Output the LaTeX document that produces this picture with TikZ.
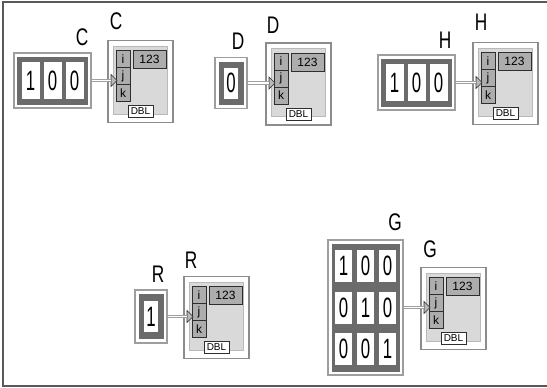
\documentclass[tikz,border=0pt]{standalone}
\usepackage{fontspec}
\newfontfamily\digitfont[FakeStretch=0.6]{Liberation Sans}
\newfontfamily\lblfont[FakeStretch=0.72]{Liberation Sans}
\newfontfamily\smallfont{Liberation Sans}
\usetikzlibrary{positioning}

\definecolor{arrdark}{gray}{0.42}
\definecolor{arrline}{gray}{0.62}
\definecolor{indline}{gray}{0.55}
\definecolor{indfill}{gray}{0.85}
\definecolor{idxfill}{gray}{0.68}
\definecolor{darkline}{gray}{0.18}
\definecolor{framecol}{gray}{0.35}

\tikzset{
  indout/.style={draw=indline, line width=1.5pt, fill=white, inner sep=0pt,
    minimum width=65pt, minimum height=82pt},
  indin/.style={draw=gray!55, line width=1pt, fill=indfill, inner sep=0pt,
    minimum width=54pt, minimum height=68pt},
  idx/.style={draw=darkline, fill=idxfill, line width=0.8pt, inner sep=0pt,
    minimum width=14pt, minimum height=17pt, font=\smallfont\fontsize{12}{12}\selectfont},
  numbox/.style={draw=darkline, fill=idxfill, line width=0.8pt, inner sep=0pt,
    minimum width=33pt, minimum height=18pt, font=\smallfont\fontsize{12}{12}\selectfont},
  dblbox/.style={draw=darkline, fill=white, line width=0.8pt, inner sep=0pt,
    minimum width=25pt, minimum height=12pt, font=\smallfont\fontsize{10}{10}\selectfont},
  tri/.style={draw=darkline, fill=gray!55, line width=0.6pt}
}

% front panel indicator: name, left x, wire y
\newcommand{\lvind}[3]{%
  \begin{scope}[shift={(#2,#3)}]
    \node[indout, anchor=north west] (#1) at (0,-41) {};
    \node[indin, anchor=north west] (#1-in) at (6,-35) {};
    \node[idx] (#1-i) at (16,-21.5) {i};
    \node[idx] (#1-j) at (16,-4.5) {j};
    \node[idx] (#1-k) at (16,12.5) {k};
    \node[numbox] (#1-n) at (42.5,-21) {123};
    \node[dblbox] (#1-d) at (33.5,31) {DBL};
    \draw[tri] (4,-6) -- (10,0) -- (4,6) -- cycle;
    \coordinate (#1-tip) at (4,0);
  \end{scope}}

\begin{document}
\begin{tikzpicture}[x=1pt, y=-1pt,
  arrout/.style={draw=arrline, line width=1.2pt, fill=white, inner sep=0pt},
  arrin/.style={fill=arrdark, inner sep=0pt},
  cell/.style 2 args={fill=white, inner sep=0pt, minimum width=#1pt, minimum height=#2pt,
    font=\digitfont\fontsize{28}{28}\selectfont},
  lbl/.style={font=\lblfont\fontsize{24}{24}\selectfont, inner sep=0pt},
  wire/.style={draw=gray!75, double=white, double distance=1.6pt, line width=0.8pt},
  frame/.style={draw=framecol, line width=1.5pt}]
  \useasboundingbox[fill=white] (0,0) rectangle (547,388);
  \draw[frame] (547,2) -- (3,2) -- (3,386) -- (547,386);

  % C
  \node[arrout, minimum width=77pt, minimum height=55pt] (Carr) at (52.5,80.5) {};
  \node[arrin, minimum width=71pt, minimum height=48pt] (Carr-bg) at (Carr) {};
  \foreach \v/\x [count=\i] in {1/30.5,0/52.5,0/74.5}
    \node[cell={18}{37}] (C-\i) at (\x,80.5) {\v};
  \node[lbl] (Clbl) at (82,37) {C};
  \lvind{Cind}{107}{80.5}
  \node[lbl] (Cindlbl) at (116,21) {C};
  \draw[wire] (Carr.east) -- (Cind-tip);

  % D
  \node[arrout, minimum width=32pt, minimum height=51pt] (Darr) at (231,83) {};
  \node[arrin, minimum width=25pt, minimum height=43pt] (Darr-bg) at (Darr) {};
  \node[cell={14}{31}] (D-1) at (231,83) {0};
  \node[lbl] (Dlbl) at (238,41) {D};
  \lvind{Dind}{265}{83}
  \node[lbl] (Dindlbl) at (273,25) {D};
  \draw[wire] (Darr.east) -- (Dind-tip);

  % H
  \node[arrout, minimum width=77pt, minimum height=55pt] (Harr) at (416.5,82.5) {};
  \node[arrin, minimum width=71pt, minimum height=48pt] (Harr-bg) at (Harr) {};
  \foreach \v/\x [count=\i] in {1/394.5,0/416.5,0/438.5}
    \node[cell={18}{37}] (H-\i) at (\x,82.5) {\v};
  \node[lbl] (Hlbl) at (445,40) {H};
  \lvind{Hind}{472}{82.5}
  \node[lbl] (Hindlbl) at (481,22) {H};
  \draw[wire] (Harr.east) -- (Hind-tip);

  % R
  \node[arrout, minimum width=32pt, minimum height=53pt] (Rarr) at (151,316.5) {};
  \node[arrin, minimum width=25pt, minimum height=45pt] (Rarr-bg) at (Rarr) {};
  \node[cell={14}{31}] (R-1) at (151,316.5) {1};
  \node[lbl] (Rlbl) at (158,274) {R};
  \lvind{Rind}{183}{316.5}
  \node[lbl] (Rindlbl) at (191,260) {R};
  \draw[wire] (Rarr.east) -- (Rind-tip);

  % G
  \node[arrout, minimum width=75pt, minimum height=135pt] (Garr) at (365.5,307.5) {};
  \node[arrin, minimum width=68pt, minimum height=128pt] (Garr-bg) at (Garr) {};
  \foreach \r/\y in {1/266,2/307.5,3/349}
    \foreach \c/\x in {1/343.5,2/365.5,3/387.5}
      \node[cell={17}{32}] (G-\r-\c) at (\x,\y) {\ifnum\r=\c\relax 1\else 0\fi};
  \node[lbl] (Glbl) at (395,222) {G};
  \lvind{Gind}{420}{307.5}
  \node[lbl] (Gindlbl) at (430,249) {G};
  \draw[wire] (Garr.east) -- (Gind-tip);
\end{tikzpicture}
\end{document}
